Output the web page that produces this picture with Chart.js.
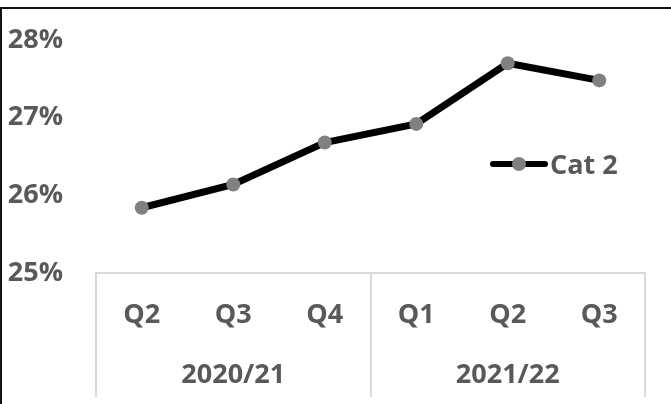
<!DOCTYPE html>
<html>
<head>
<meta charset="utf-8">
<script src="https://cdn.jsdelivr.net/npm/chart.js@4.4.1/dist/chart.umd.min.js"></script>
<style>
  html, body { margin: 0; padding: 0; background: #ffffff; }
  #wrap { position: relative; width: 671px; height: 404px; overflow: hidden; }
  #frame { position: absolute; left: 0; top: 7px; width: 700px; height: 420px;
           border-top: 2px solid #111; border-left: 2px solid #111; pointer-events: none; }
  #legend { position: absolute; left: 490px; top: 149px; height: 30px; display: flex; align-items: center;
            font-family: "Open Sans", sans-serif; font-weight: bold; font-size: 27px; color: #595959; line-height: 30px; }
  #legend .sym { position: relative; width: 58px; height: 30px; margin-right: 2px; flex: none; }
  #legend .ln { position: absolute; left: 0; top: 12px; width: 58px; height: 6px; background: #000; border-radius: 3px; }
  #legend .dt { position: absolute; left: 22px; top: 8px; width: 14px; height: 14px; background: #808080; border-radius: 50%; }
</style>
</head>
<body>
<div id="wrap">
  <canvas id="c" width="671" height="404"></canvas>
  <div id="frame"></div>
  <div id="legend"><span class="sym"><span class="ln"></span><span class="dt"></span></span><span id="legText"></span></div>
</div>
<script>
const quarters = ['Q2', 'Q3', 'Q4', 'Q1', 'Q2', 'Q3'];
const years = ['2020/21', '2021/22'];
const seriesName = 'Cat 2';
const cat2Values = [25.84, 26.14, 26.68, 26.92, 27.70, 27.48];
const yTicks = [25, 26, 27, 28];

document.getElementById('legText').textContent = seriesName;

const tickFont = { family: '"Open Sans", sans-serif', size: 27, weight: 'bold' };
const gray = '#595959';
const gridGray = '#d9d9d9';

const groupLines = {
  id: 'groupLines',
  afterDraw(chart) {
    const x2 = chart.scales.x2;
    const xs = chart.scales.x;
    const ctx = chart.ctx;
    const step = (x2.right - x2.left) / years.length;
    ctx.save();
    ctx.strokeStyle = gridGray;
    ctx.lineWidth = 2;
    for (let k = 0; k <= years.length; k++) {
      const px = Math.round(x2.left + k * step);
      ctx.beginPath();
      ctx.moveTo(px, xs.top);
      ctx.lineTo(px, x2.bottom);
      ctx.stroke();
    }
    ctx.restore();
  }
};

new Chart(document.getElementById('c'), {
  type: 'line',
  data: {
    labels: quarters,
    datasets: [{
      label: seriesName,
      data: cat2Values,
      borderColor: '#000000',
      borderWidth: 7,
      pointRadius: 7,
      pointBackgroundColor: '#808080',
      pointBorderColor: '#808080',
      pointBorderWidth: 0,
      tension: 0,
      xAxisID: 'x',
      yAxisID: 'y'
    }]
  },
  options: {
    responsive: false,
    animation: false,
    events: [],
    layout: { padding: { left: 0, right: 26, top: 40, bottom: 7 } },
    plugins: { legend: { display: false }, tooltip: { enabled: false }, title: { display: false } },
    scales: {
      y: {
        min: 25, max: 28,
        afterBuildTicks(scale) { scale.ticks = yTicks.map(v => ({ value: v })); },
        afterFit(scale) { scale.width = 96; scale.paddingTop = 0; scale.paddingBottom = 0; },
        ticks: { font: tickFont, color: gray, padding: 33, callback: v => v + '%' },
        grid: { display: false, drawTicks: false },
        border: { display: false }
      },
      x: {
        type: 'category',
        offset: true,
        afterFit(scale) { scale.height = 62; },
        ticks: { font: tickFont, color: gray, padding: 26, maxRotation: 0, autoSkip: false },
        grid: { display: false, drawTicks: false },
        border: { display: true, color: gridGray, width: 2 }
      },
      x2: {
        type: 'category',
        position: 'bottom',
        labels: years,
        offset: true,
        afterFit(scale) { scale.height = 62; },
        ticks: { font: tickFont, color: gray, padding: 24, maxRotation: 0, autoSkip: false },
        grid: { display: false, drawTicks: false },
        border: { display: false }
      }
    }
  },
  plugins: [groupLines]
});
</script>
</body>
</html>
